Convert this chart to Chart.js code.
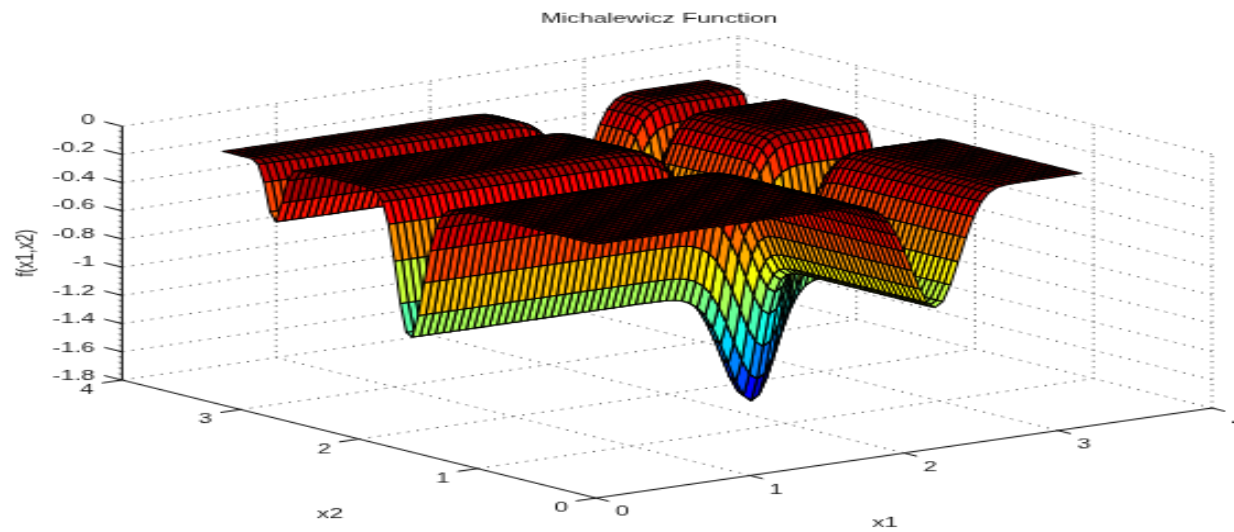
<!DOCTYPE html>
<html>
<head>
<meta charset="utf-8">
<title>Michalewicz Function</title>
<script src="https://cdn.jsdelivr.net/npm/chart.js@4"></script>
<style>
  html, body { margin: 0; padding: 0; background: #fff; overflow: hidden; }
  canvas { display: block; }
</style>
</head>
<body>
<!-- drawn small and stretched up, that is how the picture got its look -->
<canvas id="surface" width="560" height="420" style="width:1234px;height:532px"></canvas>
<script>
// sample positions along x1 and x2 (same mesh on both sides)
const gridSteps = [0,0.05,0.1,0.15,0.2,0.25,0.3,0.35,0.4,0.45,0.5,0.55,0.6,0.65,0.7,0.75,
  0.8,0.85,0.9,0.95,1,1.05,1.1,1.15,1.2,1.25,1.3,1.35,1.4,1.45,1.5,1.55,
  1.6,1.65,1.7,1.75,1.8,1.85,1.9,1.95,2,2.05,2.1,2.15,2.2,2.25,2.3,2.35,
  2.4,2.45,2.5,2.55,2.6,2.65,2.7,2.75,2.8,2.85,2.9,2.95,3,3.05,3.1,3.15];

// height read along the x1 direction (x2 on a plateau)
const profileX1 = [0,0,0,0,0,0,0,0,0,0,0,0,0,0,0,0,
  0,0,0,0,0,0,0,0,0,0,0,0,0,0,0,-0.001,
  -0.002,-0.004,-0.01,-0.023,-0.046,-0.086,-0.15,-0.248,-0.37,-0.513,-0.651,-0.757,-0.8,-0.766,-0.656,-0.5,
  -0.338,-0.198,-0.099,-0.041,-0.014,-0.004,-0.001,0,0,0,0,0,0,0,0,0];

// height read along the x2 direction (x1 on a plateau)
const profileX2 = [0,0,0,0,0,0,0,0,0,0,0,0,0,0,0,0,
  0,0,0,0,0,0,-0.001,-0.003,-0.009,-0.028,-0.074,-0.173,-0.34,-0.578,-0.82,-0.983,
  -0.96,-0.767,-0.477,-0.226,-0.077,-0.019,-0.003,0,0,0,0,0,0,0,0,0,
  0,0,-0.002,-0.017,-0.093,-0.262,-0.406,-0.346,-0.148,-0.031,-0.003,0,0,0,0,0];

const zTicks = [0,-0.2,-0.4,-0.6,-0.8,-1,-1.2,-1.4,-1.6,-1.8];
const zTickLabels = ['0','-0.2','-0.4','-0.6','-0.8','-1','-1.2','-1.4','-1.6','-1.8'];
const x1Ticks = [0,1,2,3,4];
const x2Ticks = [0,1,2,3,4];

const zMin = -1.8, zMax = 0;
const pageWidth = 1234, pageHeight = 532;

// orthographic view of the box, in page pixels; the scales take it down to the canvas
function project(x1, x2, z) {
  return {
    x: 596 + 154 * x1 - 118.5 * x2,
    y: 498 - 22.5 * x1 - 29.5 * x2 - 141 * (z - zMin)
  };
}

// matlab jet
function jet(z) {
  const t = Math.round((z - zMin) / (zMax - zMin) * 63) / 63;
  const ch = v => Math.round(255 * Math.max(0, Math.min(1, v)));
  const r = ch(Math.min(4 * t - 1.5, 4.5 - 4 * t));
  const g = ch(Math.min(4 * t - 0.5, 3.5 - 4 * t));
  const b = ch(Math.min(4 * t + 0.5, 2.5 - 4 * t));
  return `rgb(${r},${g},${b})`;
}

function lineSet(points, color, width, dash) {
  return {
    data: points,
    borderColor: color,
    borderWidth: width,
    borderDash: dash || [],
    fill: false
  };
}

const datasets = [];

// first dataset is painted last, so the near corner goes first
const last = gridSteps.length - 1;
for (let i = 0; i < last; i++) {
  for (let j = 0; j < last; j++) {
    const a = gridSteps[j], b = gridSteps[j + 1];
    const c = gridSteps[i], d = gridSteps[i + 1];
    const zAt = (m, n) => profileX1[m] + profileX2[n];
    datasets.push({
      data: [
        project(a, c, zAt(j, i)),
        project(b, c, zAt(j + 1, i)),
        project(b, d, zAt(j + 1, i + 1)),
        project(a, d, zAt(j, i + 1)),
        project(a, c, zAt(j, i))
      ],
      backgroundColor: jet(zAt(j, i)),
      borderColor: '#000',
      borderWidth: 1.05,
      fill: 'shape'
    });
  }
}

// axes and ticks
const axisColor = '#111';
const left = project(0, 4, zMin), front = project(0, 0, zMin), right = project(4, 0, zMin);
datasets.push(lineSet([left, front, right], axisColor, 1));
datasets.push(lineSet([left, project(0, 4, zMax)], axisColor, 1));
x1Ticks.forEach(t => datasets.push(lineSet([project(t, 0, zMin), project(t, -0.11, zMin)], axisColor, 1)));
x2Ticks.forEach(t => datasets.push(lineSet([project(0, t, zMin), project(-0.13, t, zMin)], axisColor, 1)));
zTicks.forEach(t => datasets.push(lineSet([project(0, 4, t), project(0, 4.15, t)], axisColor, 1)));
for (let k = 1; k < 45; k++) {
  const t = -0.04 * k;
  datasets.push(lineSet([project(0, 4, t), project(0, 4.03, t)], '#666', 1));
}

// dotted grid on the two back walls and the floor
const dots = [1, 3.5], gridColor = '#555';
zTicks.forEach(t => {
  datasets.push(lineSet([project(0, 4, t), project(4, 4, t), project(4, 0, t)], gridColor, 1, dots));
});
[1, 2, 3].forEach(t => {
  datasets.push(lineSet([project(t, 0, zMin), project(t, 4, zMin), project(t, 4, zMax)], gridColor, 1, dots));
  datasets.push(lineSet([project(0, t, zMin), project(4, t, zMin), project(4, t, zMax)], gridColor, 1, dots));
});
datasets.push(lineSet([project(4, 0, zMin), project(4, 0, zMax)], gridColor, 1, dots));
datasets.push(lineSet([project(4, 4, zMin), project(4, 4, zMax)], gridColor, 1, dots));

const labelPlugin = {
  id: 'labels',
  afterDraw(chart) {
    const ctx = chart.ctx;
    const sx = chart.width / pageWidth, sy = chart.height / pageHeight;
    const put = (text, x, y, align, rotate) => {
      ctx.save();
      ctx.translate(x * sx, y * sy);
      if (rotate) ctx.rotate(-Math.PI / 2);
      ctx.textAlign = align || 'center';
      ctx.textBaseline = 'middle';
      ctx.fillText(text, 0, 0);
      ctx.restore();
    };
    ctx.save();
    ctx.fillStyle = '#1a1a1a';
    ctx.font = '11.3px "Liberation Sans"';
    put('Michalewicz Function', 659, 18.5);
    zTickLabels.forEach((text, k) => put(text, 95, 120 + 28.5 * k, 'right'));
    x2Ticks.forEach(t => {
      const p = project(0, t, zMin);
      put(String(t), p.x - 35, p.y + 10);
    });
    x1Ticks.forEach(t => {
      const p = project(t, 0, zMin);
      put(String(t), p.x + 26, p.y + 14);
    });
    put('x2', 330, 514);
    put('x1', 885, 523);
    put('f(x1,x2)', 26, 253, 'center', true);
    ctx.restore();
  }
};

new Chart(document.getElementById('surface'), {
  type: 'line',
  data: { datasets: datasets },
  options: {
    responsive: false,
    animation: false,
    events: [],
    layout: { padding: 0 },
    elements: { point: { radius: 0 }, line: { tension: 0, borderJoinStyle: 'round' } },
    plugins: { legend: { display: false }, tooltip: { enabled: false }, title: { display: false } },
    scales: {
      x: { type: 'linear', min: 0, max: pageWidth, display: false },
      y: { type: 'linear', min: 0, max: pageHeight, reverse: true, display: false }
    }
  },
  plugins: [labelPlugin]
});
</script>
</body>
</html>
